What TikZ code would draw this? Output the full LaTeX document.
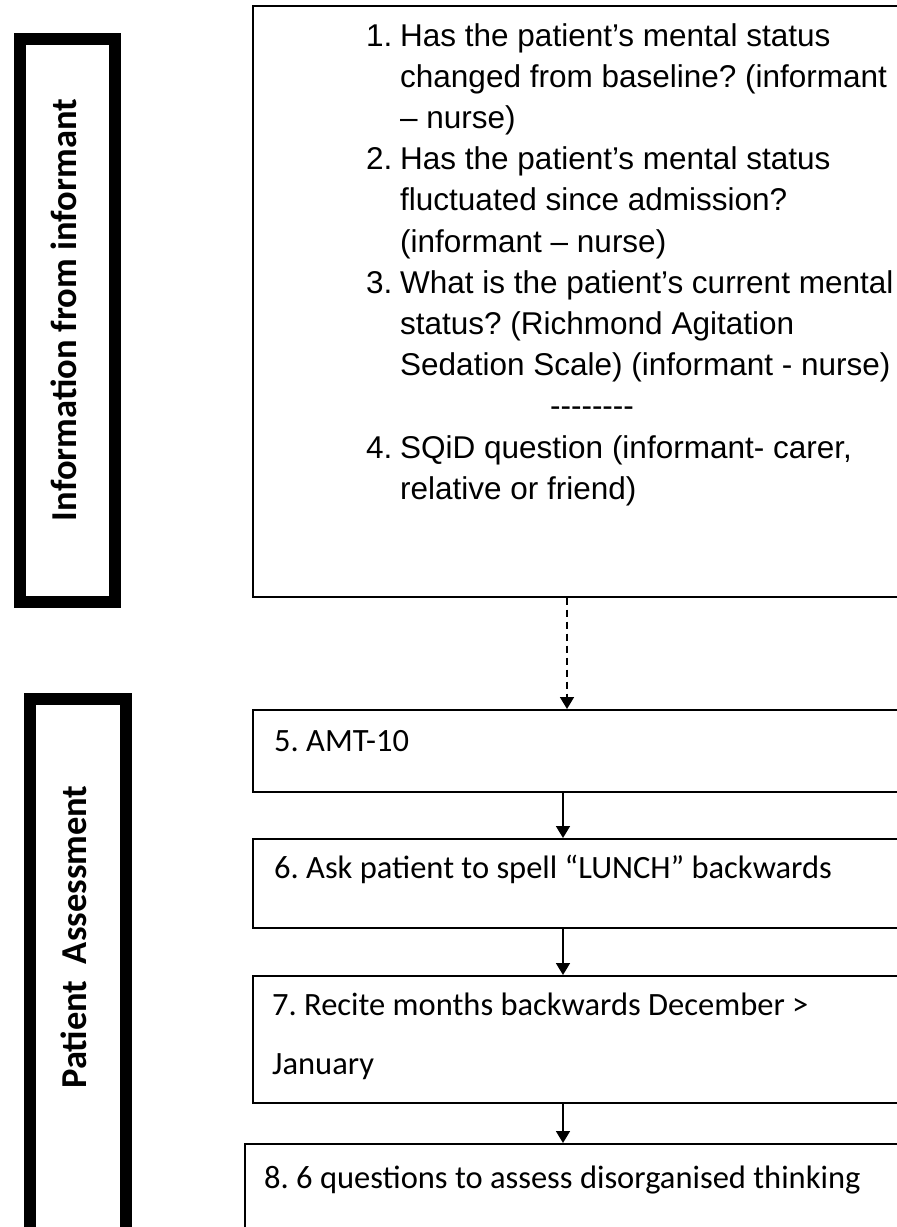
\documentclass[tikz,border=0pt]{standalone}
\usepackage{fontspec}
\setmainfont{Liberation Sans}
\newfontfamily\calfont{Carlito}
\usetikzlibrary{arrows.meta}
\frenchspacing
\begin{document}
\begin{tikzpicture}[x=1pt,y=-1pt,
  thick box/.style={draw, line width=12pt, anchor=north west, inner sep=0pt},
  flow box/.style={draw, line width=1.6pt, anchor=north west, minimum width=670pt, inner sep=0pt},
  q text/.style={anchor=base west, inner sep=0pt, align=left, font=\fontsize{31.5}{41.2}\selectfont},
  c text/.style={anchor=base west, inner sep=0pt, align=left, font=\calfont\fontsize{32.5}{59}\selectfont},
  side label/.style={rotate=90, inner sep=0pt, font=\calfont\bfseries\fontsize{36.5}{40}\selectfont},
  arr/.style={line width=1.8pt, -{Triangle[width=14pt,length=12pt]}},
]
\useasboundingbox (0,0) rectangle (897,1227);
\clip (0,0) rectangle (897,1227);

% side boxes
\node[thick box, minimum width=95pt, minimum height=563pt] (side1) at (14,33) {};
\node[thick box, minimum width=95.5pt, minimum height=600pt] (side2) at (24,693) {};
\node[side label] (lab1) at (64,310) {Information from informant};
\node[side label] (lab2) at (74,937) {Patient\ \ Assessment};

% informant box (multi-line nodes are placed at the baseline of their last line)
\node[flow box, minimum height=591pt] (info) at (252,5) {};
\node[q text] (n1) at (366,46) {1.};
\node[q text] (q1) at (400,128.4) {Has the patient’s mental status\\changed from baseline? (informant\\– nurse)};
\node[q text] (n2) at (366,169.6) {2.};
\node[q text] (q2) at (400,252) {Has the patient’s mental status\\fluctuated since admission?\\(informant – nurse)};
\node[q text] (n3) at (366,293.2) {3.};
\node[q text] (q3) at (400,375.6) {What is the patient’s current mental\\status? (Richmond Agitation\\Sedation Scale) (informant - nurse)};
\node[q text, anchor=base] (dash) at (592,416.8) {{-}{-}{-}{-}{-}{-}{-}{-}};
\node[q text] (n4) at (366,458) {4.};
\node[q text] (q4) at (400,499.2) {SQiD question (informant- carer,\\relative or friend)};

% assessment boxes
\node[flow box, minimum height=82pt] (b5) at (252,709) {};
\node[flow box, minimum height=89pt] (b6) at (252,838) {};
\node[flow box, minimum height=127pt] (b7) at (252,975) {};
\node[flow box, minimum height=130pt] (b8) at (244,1143) {};
\node[c text] (t5) at (274,751) {5. AMT-10};
\node[c text] (t6) at (274,878) {6. Ask patient to spell “LUNCH” backwards};
\node[c text] (t7) at (272,1074) {7. Recite months backwards December >\\January};
\node[c text] (t8) at (264,1188) {8. 6 questions to assess disorganised thinking};

% connectors
\coordinate (dx) at (567,0);
\coordinate (sx) at (563,0);
\draw[arr, dash pattern=on 7pt off 5pt] (info.south -| dx) -- (b5.north -| dx);
\draw[arr] (b5.south -| sx) -- (b6.north -| sx);
\draw[arr] (b6.south -| sx) -- (b7.north -| sx);
\draw[arr] (b7.south -| sx) -- (b8.north -| sx);
\end{tikzpicture}
\end{document}
